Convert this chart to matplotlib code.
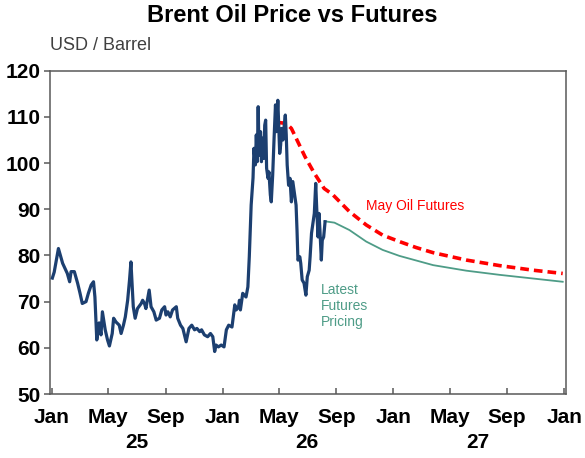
import matplotlib
matplotlib.use("Agg")
import matplotlib.pyplot as plt
import matplotlib.dates as mdates
import numpy as np

plt.rcParams['font.family'] = ['Liberation Sans', 'DejaVu Sans']

# ---------------- data ----------------
brent_dates = [
    "2025-01-02", "2025-01-06", "2025-01-15", "2025-01-24", "2025-02-03", "2025-02-08",
    "2025-02-11", "2025-02-18", "2025-02-25", "2025-03-02", "2025-03-07", "2025-03-15",
    "2025-03-20", "2025-03-26", "2025-03-31", "2025-04-03", "2025-04-07", "2025-04-12",
    "2025-04-16", "2025-04-19", "2025-04-25", "2025-04-30", "2025-05-04", "2025-05-10",
    "2025-05-13", "2025-05-18", "2025-05-25", "2025-05-29", "2025-06-03", "2025-06-07",
    "2025-06-12", "2025-06-16", "2025-06-19", "2025-06-21", "2025-06-24", "2025-06-28",
    "2025-07-03", "2025-07-11", "2025-07-14", "2025-07-18", "2025-07-21", "2025-07-28",
    "2025-08-01", "2025-08-07", "2025-08-12", "2025-08-19", "2025-08-24", "2025-08-30",
    "2025-09-02", "2025-09-06", "2025-09-11", "2025-09-16", "2025-09-24", "2025-09-27",
    "2025-10-03", "2025-10-08", "2025-10-15", "2025-10-21", "2025-10-27", "2025-11-02",
    "2025-11-07", "2025-11-13", "2025-11-17", "2025-11-23", "2025-11-30", "2025-12-06",
    "2025-12-11", "2025-12-15", "2025-12-18", "2025-12-23", "2025-12-29", "2026-01-04",
    "2026-01-09", "2026-01-14", "2026-01-21", "2026-01-27", "2026-01-30", "2026-02-04",
    "2026-02-06", "2026-02-08", "2026-02-13", "2026-02-20", "2026-02-24", "2026-02-27",
    "2026-03-03", "2026-03-07", "2026-03-09", "2026-03-12", "2026-03-14", "2026-03-16",
    "2026-03-18", "2026-03-20", "2026-03-23", "2026-03-25", "2026-03-27", "2026-03-30",
    "2026-04-01", "2026-04-03", "2026-04-05", "2026-04-08", "2026-04-10", "2026-04-13",
    "2026-04-15", "2026-04-18", "2026-04-21", "2026-04-24", "2026-04-26", "2026-04-29",
    "2026-05-01", "2026-05-03", "2026-05-05", "2026-05-07", "2026-05-10", "2026-05-12",
    "2026-05-15", "2026-05-17", "2026-05-19", "2026-05-22", "2026-05-25", "2026-05-28",
    "2026-05-31", "2026-06-04", "2026-06-07", "2026-06-09", "2026-06-11", "2026-06-15",
    "2026-06-17", "2026-06-20", "2026-06-24", "2026-06-28", "2026-07-01", "2026-07-05",
    "2026-07-07", "2026-07-10", "2026-07-12", "2026-07-16", "2026-07-19", "2026-07-21",
    "2026-07-24", "2026-07-26", "2026-07-28", "2026-07-31", "2026-08-02", "2026-08-05",
    "2026-08-08",
]
brent_values = [
    75.1, 76.4, 81.5, 78.3, 76.1, 74.3,
    76.5, 76.5, 74.0, 71.9, 69.6, 70.0,
    71.8, 73.6, 74.3, 71.0, 61.7, 65.4,
    62.8, 67.8, 63.9, 61.7, 60.4, 63.1,
    66.4, 65.6, 64.9, 63.1, 64.9, 66.7,
    70.3, 74.7, 78.6, 74.7, 68.9, 66.4,
    68.5, 69.6, 70.3, 69.6, 68.5, 72.5,
    68.9, 67.8, 66.0, 66.4, 68.2, 68.9,
    67.1, 67.8, 66.7, 68.2, 68.9, 66.4,
    64.9, 64.2, 61.3, 64.2, 64.9, 63.9,
    64.2, 63.5, 63.9, 62.8, 62.4, 63.1,
    62.4, 59.2, 60.6, 60.2, 60.6, 60.2,
    63.9, 64.9, 64.5, 69.3, 68.2, 68.9,
    70.3, 68.2, 71.8, 71.0, 73.2, 79.7,
    90.9, 96.8, 103.2, 99.6, 106.1, 100.3,
    112.2, 101.7, 106.8, 100.3, 105.4, 101.0,
    108.2, 109.3, 98.9, 96.7, 98.1, 93.1,
    91.6, 97.4, 105.4, 112.6, 106.8, 113.6,
    107.5, 102.1, 103.9, 107.5, 105.0, 107.5,
    110.4, 106.1, 99.6, 95.2, 96.7, 91.6,
    96.0, 93.1, 90.9, 85.5, 79.0, 79.7,
    78.3, 74.7, 74.0, 71.4, 75.4, 76.8,
    79.7, 84.8, 86.2, 89.1, 95.6, 90.5,
    84.0, 89.1, 85.5, 79.0, 83.3, 84.0,
    87.3,
]

may_fut_dates = [
    "2026-04-28", "2026-05-17", "2026-05-28", "2026-06-08", "2026-06-26", "2026-07-16",
    "2026-08-06", "2026-08-24", "2026-09-29", "2026-11-04", "2026-12-09", "2027-01-14",
    "2027-02-19", "2027-03-27", "2027-06-06", "2027-08-16", "2027-10-27", "2027-12-29",
]
may_fut_values = [
    108.8, 108.6, 107.5, 105.2, 101.4, 97.8,
    94.5, 93.2, 89.5, 86.6, 84.4, 83.0,
    81.7, 80.6, 79.0, 77.8, 76.8, 76.1,
]

latest_fut_dates = [
    "2026-08-07", "2026-08-28", "2026-09-29", "2026-11-04", "2026-12-09", "2027-01-14",
    "2027-03-27", "2027-06-06", "2027-08-16", "2027-10-27", "2027-12-29",
]
latest_fut_values = [
    87.4, 87.1, 85.5, 83.0, 81.2, 79.9,
    77.9, 76.7, 75.8, 75.0, 74.3,
]

month_ticks = ["2025-01-01", "2025-05-01", "2025-09-01", "2026-01-01", "2026-05-01",
               "2026-09-01", "2027-01-01", "2027-05-01", "2027-09-01", "2028-01-01"]
month_labels = ["Jan", "May", "Sep", "Jan", "May", "Sep", "Jan", "May", "Sep", "Jan"]
year_pos = ["2025-07-01", "2026-07-01", "2027-07-01"]
year_labels = ["25", "26", "27"]
y_ticks = [50, 60, 70, 80, 90, 100, 110, 120]

# ---------------- plot ----------------
def d(lst):
    return np.array(lst, dtype="datetime64[D]")

fig = plt.figure(figsize=(5.85, 4.58), dpi=100)
ax = fig.add_axes([50 / 585, 1 - 394 / 458, 516 / 585, 323.3 / 458])

blue = "#1c3f70"
red = "#ff0000"
teal = "#4e9c87"

ax.plot(d(brent_dates), brent_values, color=blue, lw=2.3, solid_joinstyle="round", zorder=3)
ax.plot(d(may_fut_dates), may_fut_values, color=red, lw=2.6, dashes=(2.4, 1.4), zorder=2)
ax.plot(d(latest_fut_dates), latest_fut_values, color=teal, lw=1.3, zorder=2)

ax.set_xlim(np.datetime64("2024-12-28"), np.datetime64("2028-01-05"))
ax.set_ylim(50, 120)

ax.set_yticks(y_ticks)
ax.set_yticklabels([str(v) for v in y_ticks], fontsize=15, fontweight="bold")
ax.tick_params(axis="y", direction="out", length=4, width=1.1, color="#595959", pad=3)

ax.set_xticks(mdates.date2num(d(month_ticks)))
ax.set_xticklabels(month_labels, fontsize=15, fontweight="bold")
ax.tick_params(axis="x", direction="in", length=4, width=1.1, color="#595959", pad=10)

for pos, lab in zip(year_pos, year_labels):
    ax.text(mdates.date2num(np.datetime64(pos)), -0.151, lab, transform=ax.get_xaxis_transform(),
            ha="center", va="center", fontsize=15, fontweight="bold")

for s in ax.spines.values():
    s.set_color("#595959")
    s.set_linewidth(1.1)

ax.text(mdates.date2num(np.datetime64("2026-11-04")), 90.7, "May Oil Futures", color=red,
        fontsize=10, ha="left", va="center")
ax.text(mdates.date2num(np.datetime64("2026-07-30")), 74.1, "Latest\nFutures\nPricing", color=teal,
        fontsize=10, ha="left", va="top", linespacing=1.2)

fig.text(292.5 / 585, 1 - 15 / 458, "Brent Oil Price vs Futures", ha="center", va="center",
         fontsize=17, fontweight="bold")
fig.text(50 / 585, 1 - 46 / 458, "USD / Barrel", ha="left", va="center", fontsize=13, color="#404040")

fig.savefig("out.png", dpi=100)
